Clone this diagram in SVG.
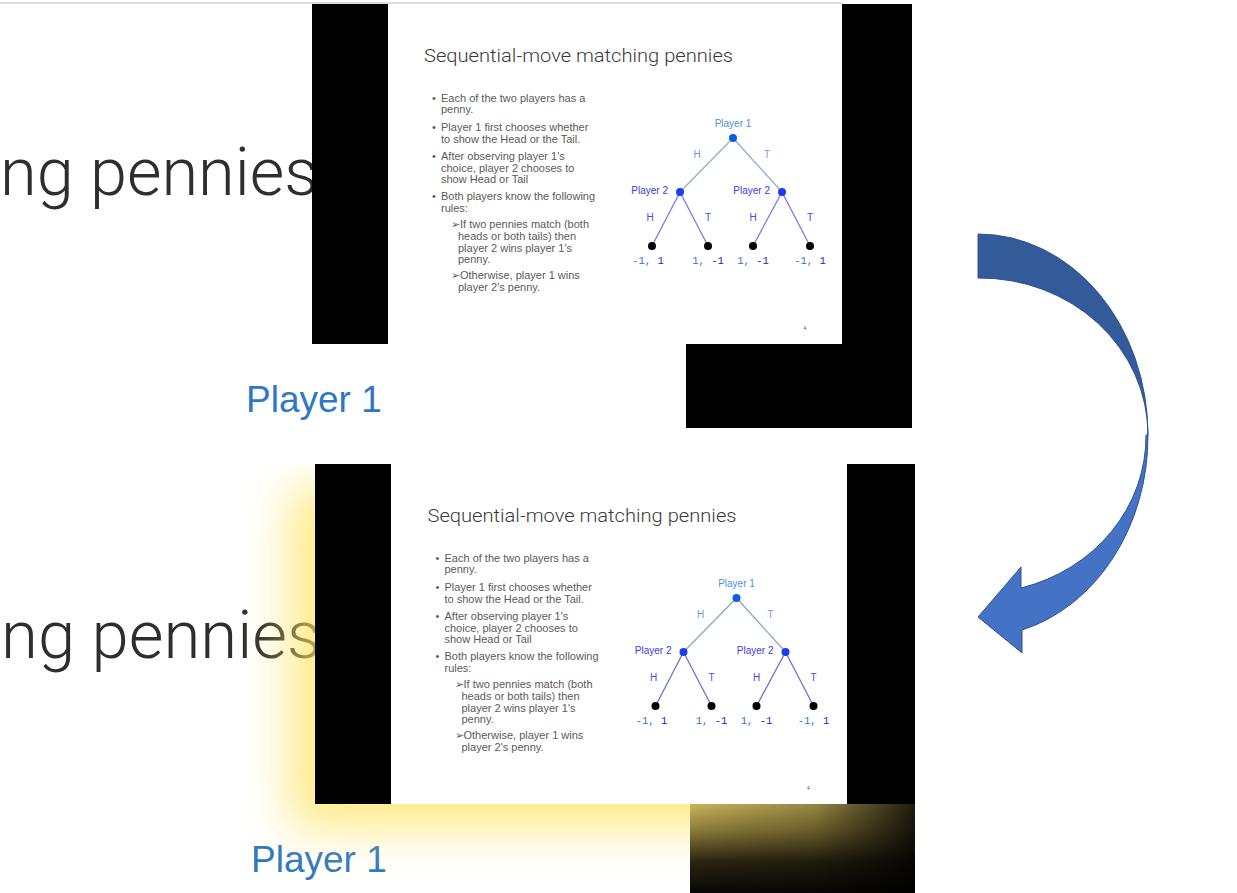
<svg xmlns="http://www.w3.org/2000/svg" width="1237" height="893" viewBox="0 0 1237 893">
<defs>
<style>
.big{font-family:"Roboto","Noto Sans","Liberation Sans",sans-serif;font-weight:300;font-size:66px;fill:#2e2e2e}
.p1big{font-family:"Liberation Sans",Arial,sans-serif;font-size:37px;fill:#2f77c4}
.title{font-family:"Roboto","Noto Sans","Liberation Sans",sans-serif;font-weight:300;font-size:19px;fill:#3a3a3a}
.body{font-family:"Liberation Sans",Arial,sans-serif;font-size:11px;fill:#5a5a5a}
.lab{font-family:"Liberation Sans",Arial,sans-serif;font-size:10px}
.pay{font-family:"Liberation Mono","Courier New",monospace;font-size:10.5px}
.e1{stroke:#8fb0d0;stroke-width:1.3;fill:none}
.e2{stroke:#7b7be6;stroke-width:1.3;fill:none}
.blk{fill:#000}
</style>
<filter id="blur" x="-30%" y="-30%" width="160%" height="160%"><feGaussianBlur stdDeviation="24"/></filter>
<clipPath id="glowclip"><rect x="0" y="464" width="915" height="429"/></clipPath>
<linearGradient id="gv" x1="0" y1="0" x2="0" y2="1">
<stop offset="0" stop-color="#c9b55a"/><stop offset="0.3" stop-color="#8a7a38"/><stop offset="0.65" stop-color="#2a2410"/><stop offset="1" stop-color="#080705"/>
</linearGradient>
<linearGradient id="gh" x1="0" y1="0" x2="1" y2="0">
<stop offset="0" stop-color="#000" stop-opacity="0"/><stop offset="0.55" stop-color="#000" stop-opacity="0.25"/><stop offset="1" stop-color="#000" stop-opacity="0.85"/>
</linearGradient>
</defs>
<rect width="1237" height="893" fill="#fff"/>
<line x1="0" y1="3" x2="843" y2="3" stroke="#dcdcdc" stroke-width="2"/>

<!-- background texts -->
<g id="bg-top">
<text class="big" x="0" y="195" textLength="318" lengthAdjust="spacingAndGlyphs">ng pennies</text>
<text class="p1big" x="246" y="412">Player 1</text>
</g>
<g id="bg-bottom">
<text class="big" x="1" y="658" textLength="320" lengthAdjust="spacingAndGlyphs">ng pennies</text>
<text class="p1big" x="251" y="872">Player 1</text>
</g>

<!-- glow -->
<g clip-path="url(#glowclip)">
<rect x="290" y="490" width="585" height="338" fill="#ffe35a" opacity="0.75" filter="url(#blur)"/>
</g>

<!-- top slide -->
<g id="slide-top">
<rect x="388" y="4" width="455" height="340" fill="#fff"/>
<rect class="blk" x="312" y="4" width="76" height="340"/>
<rect class="blk" x="842" y="4" width="70" height="424"/>
<rect class="blk" x="686" y="344" width="226" height="84"/>
<text class="title" x="424" y="62" textLength="309" lengthAdjust="spacingAndGlyphs">Sequential-move matching pennies</text>
<g class="body">
<text x="432" y="102">•</text><text x="441" y="102">Each of the two players has a</text>
<text x="441" y="113">penny.</text>
<text x="432" y="131">•</text><text x="441" y="131">Player 1 first chooses whether</text>
<text x="441" y="143">to show the Head or the Tail.</text>
<text x="432" y="160">•</text><text x="441" y="160">After observing player 1's</text>
<text x="441" y="172">choice, player 2 chooses to</text>
<text x="441" y="183">show Head or Tail</text>
<text x="432" y="200">•</text><text x="441" y="200">Both players know the following</text>
<text x="441" y="212">rules:</text>
<text x="451" y="228">➢If two pennies match (both</text>
<text x="458" y="240">heads or both tails) then</text>
<text x="458" y="252">player 2 wins player 1's</text>
<text x="458" y="263">penny.</text>
<text x="451" y="279">➢Otherwise, player 1 wins</text>
<text x="458" y="291">player 2's penny.</text>
</g>
<g id="tree-top-edges">
<line class="e1" x1="733" y1="138" x2="680" y2="192"/>
<line class="e1" x1="733" y1="138" x2="782" y2="192"/>
<line class="e2" x1="680" y1="192" x2="652" y2="246"/>
<line class="e2" x1="680" y1="192" x2="708" y2="246"/>
<line class="e2" x1="782" y1="192" x2="753" y2="246"/>
<line class="e2" x1="782" y1="192" x2="810" y2="246"/>
</g>
<g class="lab">
<text x="697" y="158" text-anchor="middle" fill="#6a9edc">H</text>
<text x="767" y="158" text-anchor="middle" fill="#6a9edc">T</text>
<text x="650" y="221" text-anchor="middle" fill="#4848f0">H</text>
<text x="708" y="221" text-anchor="middle" fill="#4848f0">T</text>
<text x="753" y="221" text-anchor="middle" fill="#4848f0">H</text>
<text x="810" y="221" text-anchor="middle" fill="#4848f0">T</text>
</g>
<g id="t-root"><circle cx="733" cy="138" r="4" fill="#0b5ee0"/><text class="lab" x="733" y="127" text-anchor="middle" fill="#4a8fe0">Player 1</text></g>
<g id="t-p2a"><circle cx="680" cy="192" r="4" fill="#1a3df0"/><text class="lab" x="668" y="194" text-anchor="end" fill="#3a3ae0" font-size="11">Player 2</text></g>
<g id="t-p2b"><circle cx="782" cy="192" r="4" fill="#1a3df0"/><text class="lab" x="770" y="194" text-anchor="end" fill="#3a3ae0" font-size="11">Player 2</text></g>
<g id="t-l1"><circle cx="652" cy="246" r="4"/><text class="pay" x="648" y="264" text-anchor="middle"><tspan fill="#3b6fc8">-1,</tspan><tspan fill="#2222cc"> 1</tspan></text></g>
<g id="t-l2"><circle cx="708" cy="246" r="4"/><text class="pay" x="708" y="264" text-anchor="middle"><tspan fill="#3b6fc8">1,</tspan><tspan fill="#2222cc"> -1</tspan></text></g>
<g id="t-l3"><circle cx="753" cy="246" r="4"/><text class="pay" x="753" y="264" text-anchor="middle"><tspan fill="#3b6fc8">1,</tspan><tspan fill="#2222cc"> -1</tspan></text></g>
<g id="t-l4"><circle cx="810" cy="246" r="4"/><text class="pay" x="810" y="264" text-anchor="middle"><tspan fill="#3b6fc8">-1,</tspan><tspan fill="#2222cc"> 1</tspan></text></g>
<text x="805" y="330" font-family="Liberation Sans,sans-serif" font-size="5" fill="#555" text-anchor="middle">4</text>
</g>

<!-- bottom slide -->
<g id="slide-bottom">
<rect x="391" y="464" width="456" height="340" fill="#fff"/>
<rect class="blk" x="315" y="464" width="76" height="340"/>
<rect class="blk" x="847" y="464" width="68" height="340"/>
<rect x="690" y="804" width="225" height="89" fill="url(#gv)"/>
<rect x="690" y="804" width="225" height="89" fill="url(#gh)"/>
<g transform="translate(3.5,460)">
<text class="title" x="424" y="62" textLength="309" lengthAdjust="spacingAndGlyphs">Sequential-move matching pennies</text>
<g class="body">
<text x="432" y="102">•</text><text x="441" y="102">Each of the two players has a</text>
<text x="441" y="113">penny.</text>
<text x="432" y="131">•</text><text x="441" y="131">Player 1 first chooses whether</text>
<text x="441" y="143">to show the Head or the Tail.</text>
<text x="432" y="160">•</text><text x="441" y="160">After observing player 1's</text>
<text x="441" y="172">choice, player 2 chooses to</text>
<text x="441" y="183">show Head or Tail</text>
<text x="432" y="200">•</text><text x="441" y="200">Both players know the following</text>
<text x="441" y="212">rules:</text>
<text x="451" y="228">➢If two pennies match (both</text>
<text x="458" y="240">heads or both tails) then</text>
<text x="458" y="252">player 2 wins player 1's</text>
<text x="458" y="263">penny.</text>
<text x="451" y="279">➢Otherwise, player 1 wins</text>
<text x="458" y="291">player 2's penny.</text>
</g>
<g id="tree-bottom-edges">
<line class="e1" x1="733" y1="138" x2="680" y2="192" style="stroke:#8aa8c0"/>
<line class="e1" x1="733" y1="138" x2="782" y2="192" style="stroke:#8aa8c0"/>
<line class="e2" x1="680" y1="192" x2="652" y2="246" style="stroke:#7070c8"/>
<line class="e2" x1="680" y1="192" x2="708" y2="246" style="stroke:#7070c8"/>
<line class="e2" x1="782" y1="192" x2="753" y2="246" style="stroke:#7070c8"/>
<line class="e2" x1="782" y1="192" x2="810" y2="246" style="stroke:#7070c8"/>
</g>
<g class="lab">
<text x="697" y="158" text-anchor="middle" fill="#6a9edc">H</text>
<text x="767" y="158" text-anchor="middle" fill="#6a9edc">T</text>
<text x="650" y="221" text-anchor="middle" fill="#4848f0">H</text>
<text x="708" y="221" text-anchor="middle" fill="#4848f0">T</text>
<text x="753" y="221" text-anchor="middle" fill="#4848f0">H</text>
<text x="810" y="221" text-anchor="middle" fill="#4848f0">T</text>
</g>
<g id="b-root"><circle cx="733" cy="138" r="4" fill="#0b5ee0"/><text class="lab" x="733" y="127" text-anchor="middle" fill="#4a8fe0">Player 1</text></g>
<g id="b-p2a"><circle cx="680" cy="192" r="4" fill="#1a3df0"/><text class="lab" x="668" y="194" text-anchor="end" fill="#3a3ae0" font-size="11">Player 2</text></g>
<g id="b-p2b"><circle cx="782" cy="192" r="4" fill="#1a3df0"/><text class="lab" x="770" y="194" text-anchor="end" fill="#3a3ae0" font-size="11">Player 2</text></g>
<g id="b-l1"><circle cx="652" cy="246" r="4"/><text class="pay" x="648" y="264" text-anchor="middle"><tspan fill="#3b6fc8">-1,</tspan><tspan fill="#2222cc"> 1</tspan></text></g>
<g id="b-l2"><circle cx="708" cy="246" r="4"/><text class="pay" x="708" y="264" text-anchor="middle"><tspan fill="#3b6fc8">1,</tspan><tspan fill="#2222cc"> -1</tspan></text></g>
<g id="b-l3"><circle cx="753" cy="246" r="4"/><text class="pay" x="753" y="264" text-anchor="middle"><tspan fill="#3b6fc8">1,</tspan><tspan fill="#2222cc"> -1</tspan></text></g>
<g id="b-l4"><circle cx="810" cy="246" r="4"/><text class="pay" x="810" y="264" text-anchor="middle"><tspan fill="#3b6fc8">-1,</tspan><tspan fill="#2222cc"> 1</tspan></text></g>
<text x="805" y="330" font-family="Liberation Sans,sans-serif" font-size="5" fill="#555" text-anchor="middle">4</text>
</g>
</g>

<!-- curved arrow connector -->
<g id="connectors">
<path d="M978,234 A170,201 0 0 1 1148,435 A168,157 0 0 0 978,278 Z" fill="#345b99" stroke="#2f528f" stroke-width="1"/>
<path d="M1148,435 A170,201 0 0 1 1022,630 L1022,653 L978,617 L1021,567 L1021,588 A168,157 0 0 0 1146,435 Z" fill="#4472c4" stroke="#2f528f" stroke-width="1"/>
</g>
</svg>
